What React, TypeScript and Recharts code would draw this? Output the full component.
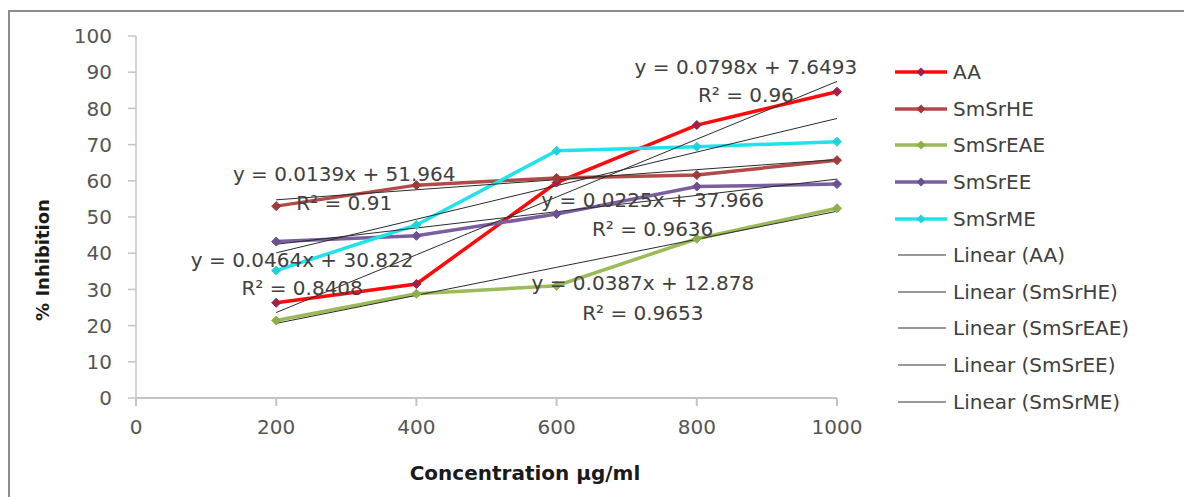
import React from 'react';
import { LineChart, Line, XAxis, YAxis, ReferenceDot, Legend } from 'recharts';

// ---- data ----
const concentrations = [200, 400, 600, 800, 1000];
const aaValues = [26.3, 31.5, 59.5, 75.4, 84.6];
const smsrHEValues = [53.0, 58.8, 60.8, 61.6, 65.7];
const smsrEAEValues = [21.4, 28.8, 31.0, 44.0, 52.4];
const smsrEEValues = [43.2, 44.8, 50.8, 58.4, 59.1];
const smsrMEValues = [35.2, 47.8, 68.3, 69.4, 70.8];

const seriesNames = ['AA', 'SmSrHE', 'SmSrEAE', 'SmSrEE', 'SmSrME'];
const trendSlopes = [0.0798, 0.0139, 0.0387, 0.0225, 0.0464];
const trendIntercepts = [7.6493, 51.964, 12.878, 37.966, 30.822];
const equationTexts = [
  'y = 0.0798x + 7.6493',
  'y = 0.0139x + 51.964',
  'y = 0.0387x + 12.878',
  'y = 0.0225x + 37.966',
  'y = 0.0464x + 30.822',
];
const rSquaredTexts = ['R² = 0.96', 'R² = 0.91', 'R² = 0.9653', 'R² = 0.9636', 'R² = 0.8408'];

const xTicks = [0, 200, 400, 600, 800, 1000];
const yTicks = [0, 10, 20, 30, 40, 50, 60, 70, 80, 90, 100];

// ---- styling / annotation placement (not data) ----
const lineColors = ['#FF0A0A', '#B24A47', '#9BBB59', '#7A5FA0', '#1FE3EA'];
const markerColors = ['#A0204A', '#9E3B3A', '#8DAF48', '#6A4F92', '#22D2DA'];
// anchor of each trendline label (equation line, R² line) in data units
const eqAnchorX = [870, 297, 723, 737, 237];
const eqAnchorY = [91.5, 61.9, 31.8, 54.6, 38.1];
const r2AnchorY = [83.7, 53.9, 23.5, 46.7, 30.4];

const seriesValues = [aaValues, smsrHEValues, smsrEAEValues, smsrEEValues, smsrMEValues];

const rows = concentrations.map((x, i) => {
  const row: Record<string, number> = { x };
  seriesNames.forEach((name, s) => {
    row[name] = seriesValues[s][i];
    row['trend_' + name] = trendSlopes[s] * x + trendIntercepts[s];
  });
  return row;
});

const FONT = '"DejaVu Sans", sans-serif';
const TEXT_COLOR = '#404040';
const LEGEND_WIDTH = 290;

const Diamond = (color: string) => (props: any) => {
  const { cx, cy, index } = props;
  if (cx == null || cy == null) return <g key={index} />;
  const r = 4.5;
  return (
    <polygon
      key={index}
      points={`${cx},${cy - r} ${cx + r},${cy} ${cx},${cy + r} ${cx - r},${cy}`}
      fill={color}
      stroke={color}
      strokeWidth={1}
    />
  );
};

const legendItems = [
  ...seriesNames.map((n, i) => ({ label: n, color: lineColors[i], marker: markerColors[i], trend: false })),
  ...seriesNames.map((n) => ({ label: `Linear (${n})`, color: '#333333', marker: '', trend: true })),
];

const renderLegend = () => (
  <div style={{ fontFamily: FONT, fontSize: 20, color: TEXT_COLOR, width: LEGEND_WIDTH }}>
    {legendItems.map((it) => (
      <div key={it.label} style={{ height: 36.6, display: 'flex', alignItems: 'center' }}>
        <svg width={60} height={14} style={{ display: 'block' }}>
          {it.trend ? (
            <line x1={4} y1={7} x2={52} y2={7} stroke={it.color} strokeWidth={1.2} />
          ) : (
            <>
              <line x1={1} y1={7} x2={53} y2={7} stroke={it.color} strokeWidth={3.5} />
              <polygon points="27,2.5 31.5,7 27,11.5 22.5,7" fill={it.marker} />
            </>
          )}
        </svg>
        <span style={{ marginLeft: -1, whiteSpace: 'nowrap' }}>{it.label}</span>
      </div>
    ))}
  </div>
);

const YTitle = () => (
  <text
    x={34}
    y={252}
    transform="rotate(-90 34 252)"
    textAnchor="middle"
    dominantBaseline="central"
    fontFamily={FONT}
    fontWeight="bold"
    fontSize={18}
    fill="#1a1a1a"
  >
    % Inhibition
  </text>
);

const XTitle = () => (
  <text
    x={517}
    y={465}
    textAnchor="middle"
    dominantBaseline="central"
    fontFamily={FONT}
    fontWeight="bold"
    fontSize={20}
    fill="#1a1a1a"
  >
    Concentration µg/ml
  </text>
);

export default function App() {
  return (
    <div style={{ position: 'relative', width: 1184, height: 489 }}>
      <div
        style={{
          position: 'absolute',
          left: 0,
          top: 2,
          width: 1184,
          height: 487,
          borderTop: '2px solid #8c8c8c',
          borderLeft: '2px solid #8c8c8c',
          boxSizing: 'border-box',
        }}
      />
      <LineChart
        width={1184}
        height={489}
        data={rows}
        margin={{ top: 28, right: 355 - LEGEND_WIDTH, left: 0, bottom: 0 }}
        style={{ position: 'absolute', left: 0, top: 0 }}
      >
        <XAxis
          dataKey="x"
          type="number"
          domain={[0, 1000]}
          ticks={xTicks}
          height={99}
          tickSize={8}
          tickMargin={14}
          stroke="#c4c4c4"
          strokeWidth={2}
          tick={{ fill: '#555555', fontFamily: FONT, fontSize: 20 }}
          label={{ content: XTitle }}
        />
        <YAxis
          type="number"
          domain={[0, 100]}
          ticks={yTicks}
          width={128}
          tickSize={8}
          tickMargin={16}
          stroke="#c4c4c4"
          strokeWidth={1.5}
          tick={{ fill: '#555555', fontFamily: FONT, fontSize: 20 }}
          label={{ content: YTitle }}
        />
        {seriesNames.map((name, i) => (
          <Line
            key={name}
            dataKey={name}
            name={name}
            stroke={lineColors[i]}
            strokeWidth={3.5}
            dot={Diamond(markerColors[i])}
            activeDot={false}
            isAnimationActive={false}
            type="linear"
          />
        ))}
        {seriesNames.map((name) => (
          <Line
            key={'trend_' + name}
            dataKey={'trend_' + name}
            name={`Linear (${name})`}
            stroke="#2b2b2b"
            strokeWidth={1}
            dot={false}
            activeDot={false}
            isAnimationActive={false}
            type="linear"
          />
        ))}
        {seriesNames.map((name, i) => (
          <ReferenceDot
            key={'eq_' + name}
            x={eqAnchorX[i]}
            y={eqAnchorY[i]}
            r={0}
            fill="none"
            stroke="none"
            label={{ value: equationTexts[i], position: 'center', fill: TEXT_COLOR, fontFamily: FONT, fontSize: 20 }}
          />
        ))}
        {seriesNames.map((name, i) => (
          <ReferenceDot
            key={'r2_' + name}
            x={eqAnchorX[i]}
            y={r2AnchorY[i]}
            r={0}
            fill="none"
            stroke="none"
            label={{ value: rSquaredTexts[i], position: 'center', fill: TEXT_COLOR, fontFamily: FONT, fontSize: 20 }}
          />
        ))}
        <Legend
          layout="vertical"
          align="right"
          verticalAlign="top"
          content={renderLegend}
          wrapperStyle={{ position: 'absolute', left: 886, top: 46, width: LEGEND_WIDTH }}
        />
      </LineChart>
    </div>
  );
}
